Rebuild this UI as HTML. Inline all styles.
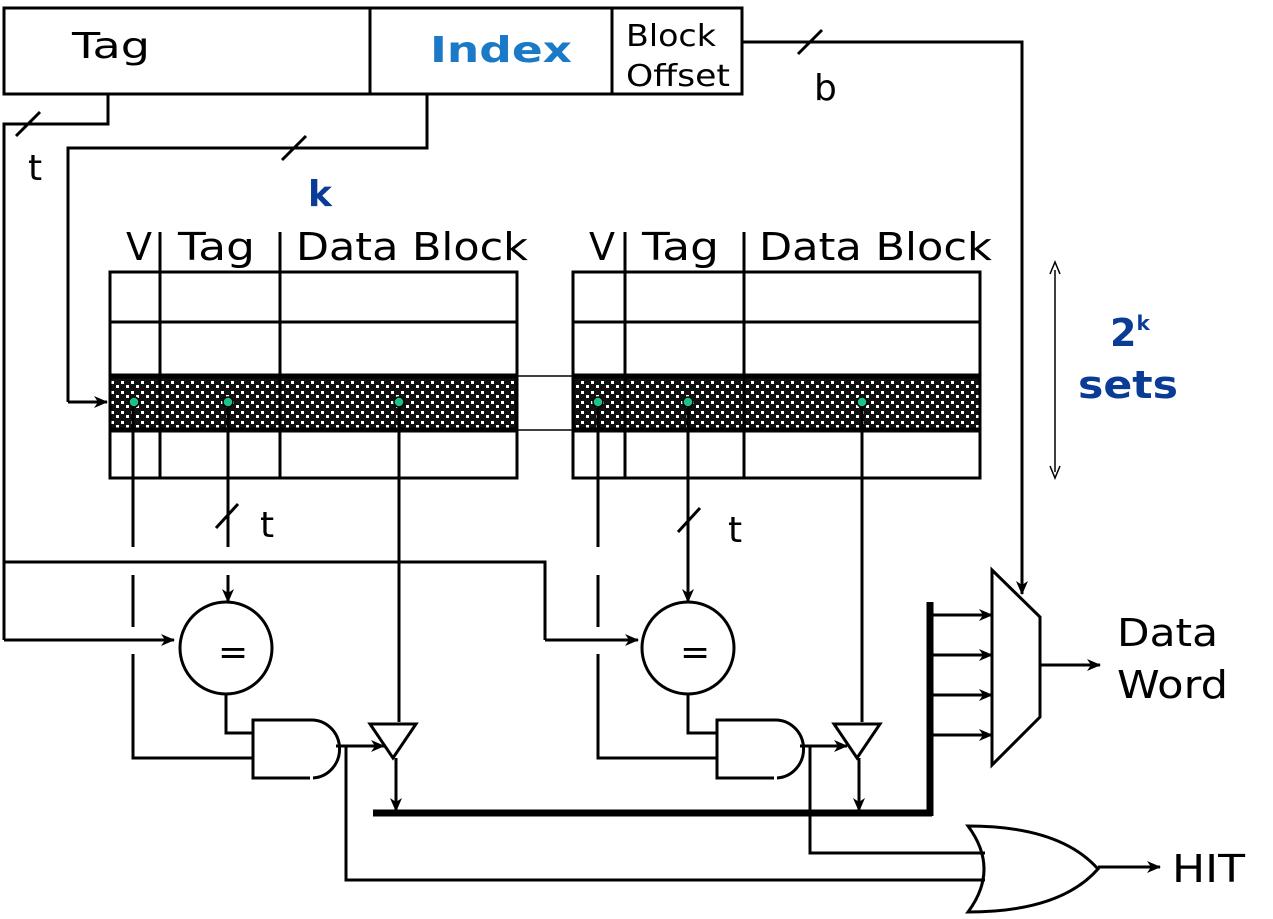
<!DOCTYPE html>
<html><head><meta charset="utf-8"><style>
html,body{margin:0;padding:0;background:#fff}
svg{display:block}
text{font-family:"DejaVu Sans","Liberation Sans",sans-serif}
</style></head><body>
<svg width="1273" height="919" viewBox="0 0 1273 919" xmlns="http://www.w3.org/2000/svg">
<defs>
<marker id="a" markerWidth="14" markerHeight="14" refX="13" refY="7" orient="auto" markerUnits="userSpaceOnUse"><path d="M0,1 L14,7 L0,13 L4,7 Z" fill="#000"/></marker>
<pattern id="dots" width="10" height="10" patternUnits="userSpaceOnUse"><rect width="10" height="10" fill="#111"/><rect x="1" y="1" width="3" height="3" fill="#fff"/><rect x="6" y="5" width="3" height="3" fill="#fff"/></pattern>
</defs>
<g fill="none" stroke="#000" stroke-width="3">
<rect x="4" y="8" width="738" height="86"/>
<line x1="370" y1="8" x2="370" y2="94"/><line x1="612" y1="8" x2="612" y2="94"/>
<polyline points="108,94 108,124 4,124 4,640"/>
<line x1="4" y1="640" x2="174" y2="640" marker-end="url(#a)"/>
<line x1="16" y1="136" x2="40" y2="112"/>
<polyline points="427,94 427,148 68,148 68,402"/>
<line x1="68" y1="402" x2="107" y2="402" marker-end="url(#a)"/>
<line x1="282" y1="160" x2="306" y2="136"/>
<polyline points="742,42 1022,42 1022,590"/>
<line x1="1022" y1="560" x2="1022" y2="594" marker-end="url(#a)"/>
<line x1="798" y1="54" x2="822" y2="30"/>
<polyline points="4,562 545,562 545,640"/>
<line x1="545" y1="640" x2="638" y2="640" marker-end="url(#a)"/>
<rect x="110" y="376" width="407" height="54" fill="url(#dots)" stroke="none"/>
<rect x="110" y="272" width="407" height="206"/>
<line x1="110" y1="322" x2="517" y2="322"/>
<line x1="110" y1="376" x2="517" y2="376" stroke-width="5"/>
<line x1="110" y1="430" x2="517" y2="430" stroke-width="5"/>
<line x1="160" y1="232" x2="160" y2="478"/><line x1="280" y1="232" x2="280" y2="478"/>
<rect x="573" y="376" width="407" height="54" fill="url(#dots)" stroke="none"/>
<rect x="573" y="272" width="407" height="206"/>
<line x1="573" y1="322" x2="980" y2="322"/>
<line x1="573" y1="376" x2="980" y2="376" stroke-width="5"/>
<line x1="573" y1="430" x2="980" y2="430" stroke-width="5"/>
<line x1="625" y1="232" x2="625" y2="478"/><line x1="744" y1="232" x2="744" y2="478"/>
<line x1="517" y1="376" x2="573" y2="376" stroke-width="1.5"/><line x1="517" y1="430" x2="573" y2="430" stroke-width="1.5"/>
<polyline points="133,402 133,547"/><polyline points="133,575 133,627"/><polyline points="133,654 133,758 253,758"/>
<line x1="228" y1="402" x2="228" y2="547"/><line x1="216" y1="528" x2="238" y2="504"/>
<line x1="228" y1="575" x2="228" y2="602" marker-end="url(#a)"/>
<circle cx="226" cy="648" r="46"/>
<polyline points="226,694 226,733 253,733"/>
<path d="M310,720 H253 V778 H310 M310,720 A28,29 0 0 1 313,778" />
<line x1="336" y1="746" x2="384" y2="746" marker-end="url(#a)"/>
<polygon points="370,724 416,724 393,758"/>
<line x1="399" y1="402" x2="399" y2="722"/>
<line x1="396" y1="758" x2="396" y2="811" marker-end="url(#a)"/>
<polyline points="346,746 346,880 985,880"/>
<line x1="598" y1="402" x2="598" y2="547"/><line x1="598" y1="575" x2="598" y2="627"/><polyline points="598,654 598,758 717,758"/>
<line x1="688" y1="402" x2="688" y2="602" marker-end="url(#a)"/>
<line x1="678" y1="532" x2="700" y2="508"/>
<circle cx="688" cy="648" r="46"/>
<polyline points="688,694 688,733 717,733"/>
<path d="M774,720 H717 V778 H774 M774,720 A28,29 0 0 1 777,778"/>
<line x1="800" y1="746" x2="847" y2="746" marker-end="url(#a)"/>
<polygon points="834,724 880,724 857,758"/>
<line x1="862" y1="402" x2="862" y2="722"/>
<line x1="859" y1="758" x2="859" y2="811" marker-end="url(#a)"/>
<polyline points="810,746 810,853 985,853"/>
<line x1="373" y1="813" x2="932" y2="813" stroke-width="7"/>
<line x1="930" y1="602" x2="930" y2="816" stroke-width="7"/>
<line x1="930" y1="615" x2="992" y2="615" marker-end="url(#a)"/>
<line x1="930" y1="655" x2="992" y2="655" marker-end="url(#a)"/>
<line x1="930" y1="695" x2="992" y2="695" marker-end="url(#a)"/>
<line x1="930" y1="735" x2="992" y2="735" marker-end="url(#a)"/>
<polygon points="992,570 1040,617 1040,717 992,765"/>
<line x1="1040" y1="665" x2="1100" y2="665" marker-end="url(#a)"/>
<path d="M968,826 Q1000,869 968,912 Q1060,912 1098,869 Q1060,826 968,826 Z"/>
<line x1="1098" y1="867" x2="1160" y2="867" marker-end="url(#a)"/>
<line x1="1055" y1="270" x2="1055" y2="472" stroke-width="1.5"/>
<path d="M1050,274 L1055,262 L1060,274 M1050,466 L1055,478 L1060,466" stroke-width="1.5"/>
</g>
<g fill="#1bc28e" stroke="#000" stroke-width="1.5">
<circle cx="134" cy="402" r="5"/><circle cx="228" cy="402" r="5"/><circle cx="399" cy="402" r="5"/>
<circle cx="598" cy="402" r="5"/><circle cx="688" cy="402" r="5"/><circle cx="862" cy="402" r="5"/>
</g>
<g font-size="36" fill="#000">
<text x="72" y="58" textLength="78" lengthAdjust="spacingAndGlyphs">Tag</text>
<text x="430" y="62" font-weight="bold" fill="#1a7ac8" textLength="142" lengthAdjust="spacingAndGlyphs">Index</text>
<text x="626" y="46" font-size="30" textLength="90" lengthAdjust="spacingAndGlyphs">Block</text>
<text x="626" y="86" font-size="30" textLength="104" lengthAdjust="spacingAndGlyphs">Offset</text>
<text x="814" y="100">b</text>
<text x="28" y="180">t</text>
<text x="308" y="206" font-weight="bold" fill="#0a3c96">k</text>
<text x="126" y="260" font-size="38">V</text>
<text x="178" y="260" font-size="38" textLength="77" lengthAdjust="spacingAndGlyphs">Tag</text>
<text x="296" y="260" font-size="38" textLength="232" lengthAdjust="spacingAndGlyphs">Data Block</text>
<text x="589" y="260" font-size="38">V</text>
<text x="642" y="260" font-size="38" textLength="77" lengthAdjust="spacingAndGlyphs">Tag</text>
<text x="759" y="260" font-size="38" textLength="233" lengthAdjust="spacingAndGlyphs">Data Block</text>
<text x="260" y="537">t</text>
<text x="728" y="542">t</text>
<text x="218" y="664">=</text>
<text x="680" y="664">=</text>
<text x="1117" y="646" font-size="38" textLength="101" lengthAdjust="spacingAndGlyphs">Data</text>
<text x="1117" y="698" font-size="38" textLength="111" lengthAdjust="spacingAndGlyphs">Word</text>
<text x="1172" y="882" font-size="38" textLength="73" lengthAdjust="spacingAndGlyphs">HIT</text>
<text x="1110" y="346" font-weight="bold" font-size="38" fill="#0a3c96">2<tspan font-size="20" dy="-16">k</tspan></text>
<text x="1078" y="398" font-weight="bold" font-size="38" fill="#0a3c96" textLength="100" lengthAdjust="spacingAndGlyphs">sets</text>
</g>
</svg>
</body></html>
